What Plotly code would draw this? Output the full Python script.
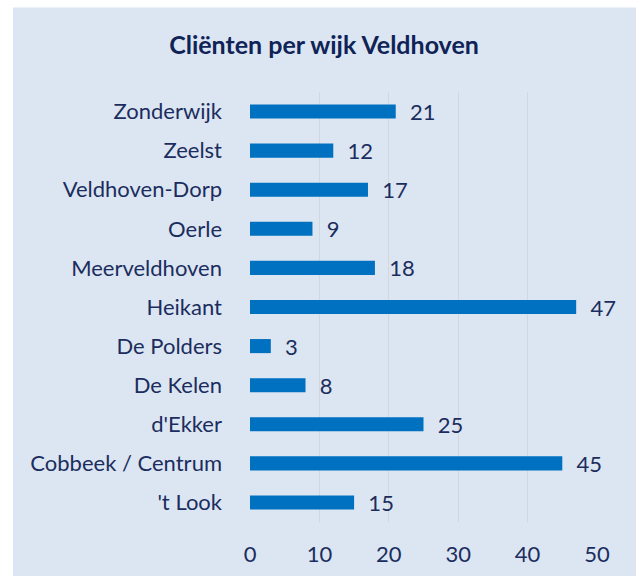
import plotly.graph_objects as go

categories = ["'t Look", "Cobbeek / Centrum", "d'Ekker", "De Kelen", "De Polders",
              "Heikant", "Meerveldhoven", "Oerle", "Veldhoven-Dorp", "Zeelst", "Zonderwijk"]
values = [15, 45, 25, 8, 3, 47, 18, 9, 17, 12, 21]
x_ticks = [0, 10, 20, 30, 40, 50]
title_text = "Cliënten per wijk Veldhoven"

W, H = 636, 579
L, R, T, B = 250, 39, 92, 50
pw, ph = W - L - R, H - T - B

BG = "#dce6f2"
TXT = "#1b2d5e"
FONT = "Lato"
FS = 22

fig = go.Figure(go.Bar(
    y=categories, x=values, orientation="h",
    marker=dict(color="#0070c0", line=dict(width=0)),
    width=0.36,
    text=values,
    texttemplate="\u00a0\u00a0%{x}",
    textposition="outside",
    constraintext="none",
    outsidetextfont=dict(family=FONT, size=FS, color=TXT),
    cliponaxis=False,
    hoverinfo="skip",
))

# background panel (white strip at top/left like the reference)
fig.add_shape(type="rect", xref="paper", yref="paper", layer="below",
              x0=(13 - L) / pw, x1=(W + 5 - L) / pw,
              y0=(H - B - (H + 5)) / ph, y1=(H - B - 6) / ph,
              fillcolor=BG, line=dict(width=0))

fig.update_layout(
    width=W, height=H,
    margin=dict(l=L, r=R, t=T, b=B, pad=0),
    paper_bgcolor="white", plot_bgcolor="rgba(0,0,0,0)",
    showlegend=False,
    title=dict(text="<b>" + title_text + "</b>", xref="container", yref="container",
               x=324 / W, y=1 - 45 / H, xanchor="center", yanchor="middle",
               font=dict(family=FONT, size=25, color="#0f2357")),
    font=dict(family=FONT, size=FS, color=TXT),
    xaxis=dict(range=[0, 50], tickvals=x_ticks, ticktext=[str(v) for v in x_ticks],
               showgrid=True, gridcolor="#d3d7dc", gridwidth=1.3,
               zeroline=False, showline=False, ticks="",
               ticklabelstandoff=17,
               tickfont=dict(family=FONT, size=FS, color=TXT), fixedrange=True),
    yaxis=dict(type="category", categoryorder="array", categoryarray=categories,
               showgrid=False, zeroline=False, showline=False, ticks="",
               ticklabelstandoff=27,
               tickfont=dict(family=FONT, size=FS, color=TXT), fixedrange=True),
)

fig.write_html("out.html", config={"displayModeBar": False},
               post_script="document.body.style.margin='0';document.body.style.overflow='hidden';")
